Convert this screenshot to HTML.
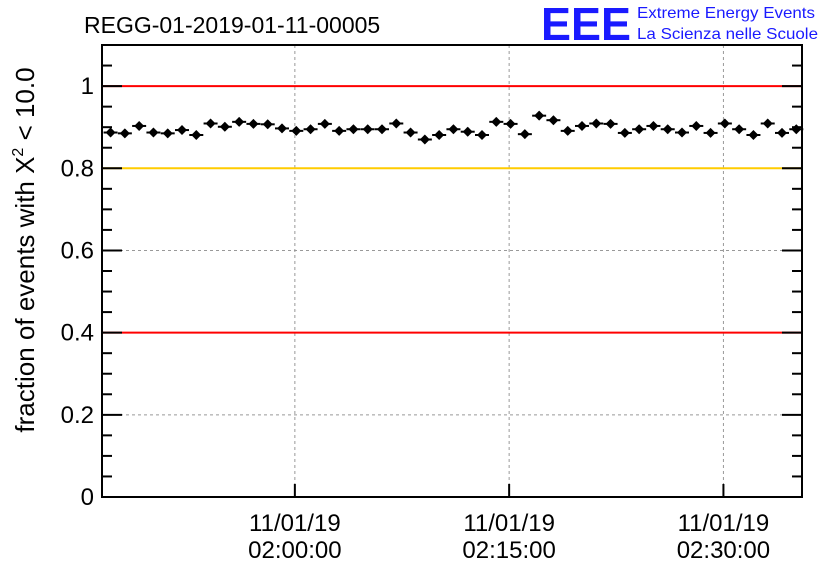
<!DOCTYPE html>
<html><head><meta charset="utf-8"><style>
body{margin:0;background:#fff;}
svg{display:block;font-family:"Liberation Sans",sans-serif;}
</style></head><body>
<svg id="c" width="836" height="572">
<text x="84" y="33" font-size="23">REGG-01-2019-01-11-00005</text>
<g>
<text x="541" y="40" font-size="46" font-weight="bold" fill="#1a1aff" textLength="90" lengthAdjust="spacingAndGlyphs">EEE</text>
<text x="637" y="18" font-size="16" fill="#1a1aff" textLength="178" lengthAdjust="spacingAndGlyphs">Extreme Energy Events</text>
<text x="637" y="39" font-size="16" fill="#1a1aff" textLength="181" lengthAdjust="spacingAndGlyphs">La Scienza nelle Scuole</text>
</g>
<text transform="translate(34,250) rotate(-90)" text-anchor="middle" font-size="26">fraction of events with X<tspan dy="-11" font-size="16">2</tspan><tspan dy="11"> &lt; 10.0</tspan></text>
<g id="plot"></g>
</svg>
<script>
const minutes=[-12.9,-11.9,-10.9,-9.9,-8.9,-7.9,-6.9,-5.9,-4.9,-3.9,-2.9,-1.9,-0.9,0.1,1.1,2.1,3.1,4.1,5.1,6.1,7.1,8.1,9.1,10.1,11.1,12.1,13.1,14.1,15.1,16.1,17.1,18.1,19.1,20.1,21.1,22.1,23.1,24.1,25.1,26.1,27.1,28.1,29.1,30.1,31.1,32.1,33.1,34.1,35.1];
const fractions=[0.887,0.885,0.903,0.887,0.885,0.893,0.881,0.909,0.901,0.913,0.908,0.907,0.897,0.891,0.895,0.908,0.891,0.895,0.895,0.895,0.909,0.887,0.870,0.881,0.895,0.889,0.881,0.913,0.908,0.883,0.928,0.917,0.891,0.903,0.909,0.908,0.886,0.895,0.903,0.895,0.887,0.903,0.886,0.909,0.895,0.881,0.909,0.886,0.895];
const yTicks=[0,0.2,0.4,0.6,0.8,1];
const yTickLabels=["0","0.2","0.4","0.6","0.8","1"];
const xTicks=[0,15,30];
const xTickLabels=["02:00:00","02:15:00","02:30:00"];
const dateLabel="11/01/19";
const refLines=[{v:1,c:"#ff0000"},{v:0.8,c:"#ffcc00"},{v:0.4,c:"#ff0000"}];

const L=102,R=802,T=45,B=497,xmin=-13.5,xmax=35.5,ymin=0,ymax=1.1;
const X=m=>L+(m-xmin)/(xmax-xmin)*(R-L);
const Y=v=>B-(v-ymin)/(ymax-ymin)*(B-T);
const g=document.getElementById('plot');
const NS="http://www.w3.org/2000/svg";
function el(t,a,p){const e=document.createElementNS(NS,t);for(const k in a)e.setAttribute(k,a[k]);(p||g).appendChild(e);return e;}
yTicks.forEach((v,i)=>{if(v>0&&v<1.1){const l=el('line',{x1:L,x2:R,y1:Y(v),y2:Y(v),stroke:'#999','stroke-dasharray':'3,3'});

}});
xTicks.forEach(m=>{const l=el('line',{x1:X(m),x2:X(m),y1:T,y2:B,stroke:'#999','stroke-dasharray':'3,3'});

});
refLines.forEach(r=>{const l=el('line',{x1:L,x2:R,y1:Y(r.v),y2:Y(r.v),stroke:r.c,'stroke-width':2});

});
const f=el('rect',{x:L,y:T,width:R-L,height:B-T,fill:'none',stroke:'#000','stroke-width':2});


for(let k=0;k<=22;k++){const v=k*0.05;const len=(k%4==0)?20:10;
const t=el('line',{x1:L,x2:L+len,y1:Y(v),y2:Y(v),stroke:'#000','stroke-width':2});


const t2=el('line',{x1:R,x2:R-len,y1:Y(v),y2:Y(v),stroke:'#000','stroke-width':2});

}
yTicks.forEach((v,i)=>{const t=el('text',{x:L-8,y:Y(v)+8,'text-anchor':'end','font-size':24});t.textContent=yTickLabels[i];

});
xTicks.forEach((m,i)=>{
const t=el('line',{x1:X(m),x2:X(m),y1:B,y2:B-13,stroke:'#000','stroke-width':2});


const a=el('text',{x:X(m),y:531,'text-anchor':'middle','font-size':24});a.textContent=dateLabel;


const b=el('text',{x:X(m),y:558,'text-anchor':'middle','font-size':24});b.textContent=xTickLabels[i];

});
fractions.forEach((v,i)=>{const x=X(minutes[i]),y=Y(v);
const gp=el('g',{});


el('line',{x1:x-7,x2:x+7,y1:y,y2:y,stroke:'#000','stroke-width':2},gp);
el('line',{x1:x,x2:x,y1:y-4,y2:y+4,stroke:'#000','stroke-width':2},gp);
el('path',{d:`M${x-5} ${y}L${x} ${y-5}L${x+5} ${y}L${x} ${y+5}Z`,fill:'#000'},gp);});
</script>
</body></html>
